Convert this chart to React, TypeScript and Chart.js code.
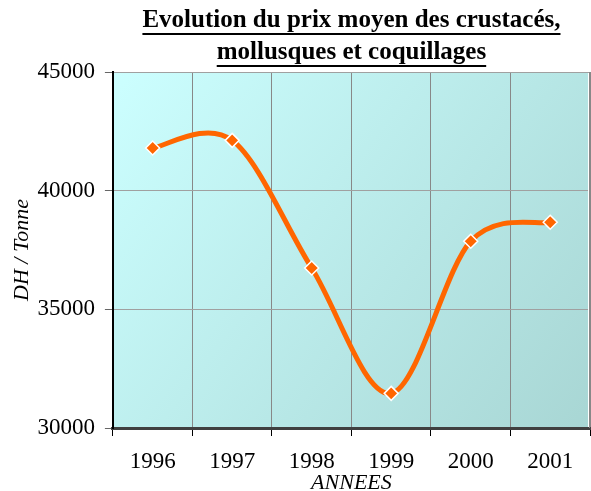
import React, { useEffect, useRef } from "react";
import { Chart, registerables } from "chart.js";

Chart.register(...registerables);

const titleLines = ["Evolution du prix moyen des crustacés,", "mollusques et coquillages"];
const years = ["1996", "1997", "1998", "1999", "2000", "2001"];
const prices = [41800, 42120, 36740, 31460, 37870, 38670];
const yTitle = "DH / Tonne";
const xTitle = "ANNEES";

const serif = "'Liberation Serif', 'Times New Roman', serif";

const bgPlugin = {
  id: "bgGradient",
  beforeDraw(chart: any) {
    const { ctx, chartArea } = chart;
    if (!chartArea) return;
    const g = ctx.createLinearGradient(chartArea.left, chartArea.top, chartArea.right, chartArea.bottom);
    g.addColorStop(0, "#CCFFFF");
    g.addColorStop(1, "#A8D6D4");
    ctx.save();
    ctx.fillStyle = g;
    ctx.fillRect(chartArea.left, chartArea.top, chartArea.right - chartArea.left, chartArea.bottom - chartArea.top);
    ctx.restore();
  },
  afterDatasetsDraw(chart: any) {
    const { ctx, chartArea } = chart;
    ctx.save();
    ctx.lineWidth = 1;
    ctx.strokeStyle = "#FFFFFF";
    ctx.beginPath();
    ctx.moveTo(chartArea.right - 1.5, chartArea.top + 1);
    ctx.lineTo(chartArea.right - 1.5, chartArea.bottom - 1);
    ctx.stroke();
    ctx.strokeStyle = "#888888";
    ctx.beginPath();
    ctx.moveTo(chartArea.right - 0.5, chartArea.top);
    ctx.lineTo(chartArea.right - 0.5, chartArea.bottom);
    ctx.stroke();
    ctx.restore();
  },
};

// Center the title over the plot area
const titleCenterPlugin = {
  id: "titleCenter",
  afterLayout(chart: any) {
    const tb = chart.titleBlock;
    if (tb && chart.chartArea) {
      tb.left = chart.chartArea.left;
      tb.right = chart.chartArea.right;
    }
  },
};

// Excel-like smoothing (Catmull-Rom control points)
const smoothPlugin = {
  id: "excelSmooth",
  beforeDatasetDraw(chart: any, args: any) {
    const meta = chart.getDatasetMeta(args.index);
    if (!meta.dataset) return;
    const pts = meta.dataset.points;
    const n = pts.length;
    for (let i = 0; i < n; i++) {
      const p = pts[i];
      const prev = pts[Math.max(i - 1, 0)];
      const next = pts[Math.min(i + 1, n - 1)];
      const dx = (next.x - prev.x) / 6;
      const dy = (next.y - prev.y) / 6;
      p.cp1x = p.x - dx;
      p.cp1y = p.y - dy;
      p.cp2x = p.x + dx;
      p.cp2y = p.y + dy;
    }
  },
};

const underlinePlugin = {
  id: "titleUnderline",
  afterDraw(chart: any) {
    const tb = chart.titleBlock;
    if (!tb) return;
    const opts = tb.options;
    const size = opts.font.size;
    const lh = size * opts.font.lineHeight;
    const padTop = typeof opts.padding === "object" ? opts.padding.top : opts.padding;
    const ctx = chart.ctx;
    ctx.save();
    ctx.font = `${opts.font.weight} ${size}px ${opts.font.family}`;
    ctx.strokeStyle = "#000";
    ctx.lineWidth = 2;
    const cx = (tb.left + tb.right) / 2;
    const lines = opts.text as string[];
    lines.forEach((t, i) => {
      const w = ctx.measureText(t).width;
      const y = Math.round(tb.top + padTop + lh / 2 + i * lh + size * 0.5);
      ctx.beginPath();
      ctx.moveTo(cx - w / 2, y);
      ctx.lineTo(cx + w / 2, y);
      ctx.stroke();
    });
    ctx.restore();
  },
};

export default function App() {
  const ref = useRef<HTMLCanvasElement>(null);
  useEffect(() => {
    if (!ref.current) return;
    const chart = new Chart(ref.current, {
      type: "line",
      data: {
        labels: years,
        datasets: [
          {
            data: prices,
            borderColor: "#FF6600",
            backgroundColor: "#FF6600",
            borderWidth: 5,
            tension: 0.3,
            pointStyle: "rectRot",
            pointRadius: 7,
            pointBackgroundColor: "#FF6600",
            pointBorderColor: "#FFFFFF",
            pointBorderWidth: 1.5,
          },
        ],
      },
      options: {
        animation: false,
        responsive: false,
        layout: { autoPadding: false, padding: { left: 0, right: 1, top: 0, bottom: 0 } },
        plugins: {
          legend: { display: false },
          tooltip: { enabled: false },
          title: {
            display: true,
            text: titleLines,
            color: "#000",
            font: { family: serif, size: 25, weight: "bold", lineHeight: 1.28 },
            padding: { top: 5, bottom: 3 },
          },
        },
        scales: {
          x: {
            offset: true,
            grid: {
              offset: true,
              color: "#888888",
              lineWidth: 1,
              drawTicks: true,
              tickLength: 8,
              tickColor: "#000",
            },
            border: { color: "#404040", width: 3 },
            ticks: { color: "#000", font: { family: serif, size: 23 }, padding: 12 },
            title: {
              display: true,
              text: xTitle,
              color: "#000",
              font: { family: serif, size: 22, style: "italic" },
              padding: { top: -18, bottom: -5 },
            },
          },
          y: {
            min: 30000,
            max: 45000,
            grid: { color: "#A0A0A0", lineWidth: 1, tickLength: 8, tickColor: "#666" },
            border: { color: "#000", width: 2 },
            ticks: {
              stepSize: 5000,
              color: "#000",
              font: { family: serif, size: 23 },
              padding: 10,
              callback: (v: any) => String(v),
            },
            title: {
              display: true,
              text: yTitle,
              color: "#000",
              font: { family: serif, size: 22, style: "italic" },
              padding: { top: 9, bottom: -8 },
            },
          },
        },
      },
      plugins: [bgPlugin, titleCenterPlugin, smoothPlugin, underlinePlugin],
    });
    return () => chart.destroy();
  }, []);
  return (
    <div style={{ position: "fixed", left: 0, top: 0, width: 591, height: 491, background: "#fff" }}>
      <canvas ref={ref} width={591} height={491} style={{ display: "block" }} />
    </div>
  );
}
